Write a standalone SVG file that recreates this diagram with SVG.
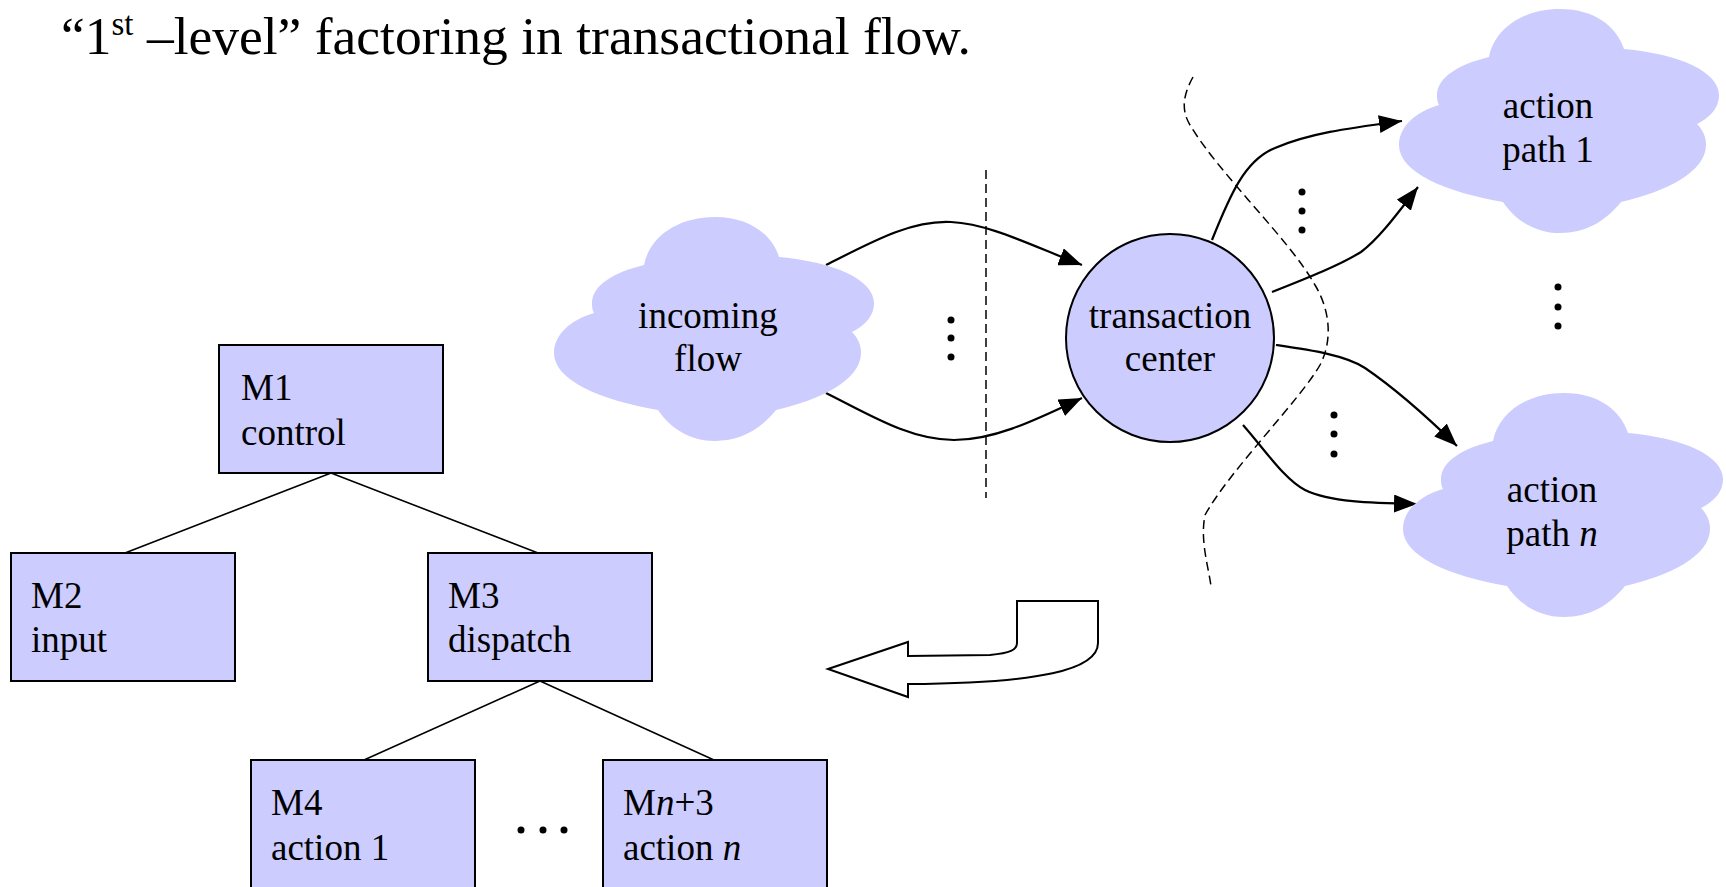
<svg xmlns="http://www.w3.org/2000/svg" width="1726" height="887" viewBox="0 0 1726 887">
<style>
text{font-family:"Liberation Serif","Times New Roman",serif;fill:#000}
.lbl{font-size:37px}
.mid{text-anchor:middle}
.box{fill:#ccccff;stroke:#000;stroke-width:2}
.cloud{fill:#ccccff;stroke:none}
.conn{fill:none;stroke:#000;stroke-width:2.2}
.tree{fill:none;stroke:#000;stroke-width:1.6}
.dash{fill:none;stroke:#000;stroke-width:1.5;stroke-dasharray:9 5}
.dot{fill:#000}
</style>
<defs>
<path id="cloudShape" d="M 90 48 C 96 18 126 0 161 0 C 196 0 218 18 225 40 C 281 45 320 63 320 86 C 320 101 308 110 298 115 C 304 121 307 128 307 136 C 307 163 266 183 222 193 C 206 213 186 224 161 224 C 136 224 116 211 104 193 C 46 183 0 163 0 136 C 0 118 16 103 40 96 C 38 93 38 89 38 86 C 38 68 61 55 90 48 Z"/>
<marker id="ah" markerUnits="userSpaceOnUse" markerWidth="23" markerHeight="18" refX="23" refY="9" orient="auto">
<path d="M0,0 L23,9 L0,18 Z" fill="#000"/>
</marker>
</defs>
<text x="61" y="54" style="font-size:53.5px">“1<tspan style="font-size:33px" dy="-19">st</tspan><tspan dy="19"> –level” factoring in transactional flow.</tspan></text>

<g id="connectors">
<path class="conn" marker-end="url(#ah)" d="M 826 265 C 870 243 910 220 951 222 C 990 224 1030 245 1082 265"/>
<path class="conn" marker-end="url(#ah)" d="M 826 393 C 870 415 910 440 954 440 C 995 440 1035 420 1082 398"/>
<path class="conn" marker-end="url(#ah)" d="M 1212 240 C 1230 195 1245 160 1275 148 C 1310 133 1350 128 1402 121"/>
<path class="conn" marker-end="url(#ah)" d="M 1272 292 C 1310 277 1340 265 1361 252 C 1380 238 1400 210 1418 187"/>
<path class="conn" marker-end="url(#ah)" d="M 1276 345 C 1310 350 1345 355 1365 368 C 1390 385 1420 410 1457 446"/>
<path class="conn" marker-end="url(#ah)" d="M 1243 425 C 1265 450 1285 480 1305 490 C 1330 502 1370 503 1417 504"/>
<path class="tree" d="M 331 473 L 125 553 M 331 473 L 538 553 M 540 681 L 364 760 M 540 681 L 714 760"/>
</g>

<g id="boundaries">
<path class="dash" d="M 986 170 L 986 498"/>
<path class="dash" d="M 1193 77 C 1183 95 1181 110 1190 125 C 1220 175 1290 240 1315 285 C 1330 310 1333 340 1320 365 C 1300 400 1230 470 1205 515 C 1200 540 1208 565 1211 586"/>
</g>

<g id="incoming-flow">
<use href="#cloudShape" class="cloud" transform="translate(554,217)"/>
<text class="lbl mid" x="708" y="328">incoming</text>
<text class="lbl mid" x="708" y="371">flow</text>
</g>

<g id="transaction-center">
<circle cx="1170" cy="338" r="104" class="box"/>
<text class="lbl mid" x="1170" y="328">transaction</text>
<text class="lbl mid" x="1170" y="371">center</text>
</g>

<g id="action-path-1">
<use href="#cloudShape" class="cloud" transform="translate(1399,9)"/>
<text class="lbl mid" x="1548" y="118">action</text>
<text class="lbl mid" x="1548" y="162">path 1</text>
</g>

<g id="action-path-n">
<use href="#cloudShape" class="cloud" transform="translate(1403,393)"/>
<text class="lbl mid" x="1552" y="502">action</text>
<text class="lbl mid" x="1552" y="546">path <tspan font-style="italic">n</tspan></text>
</g>

<g id="dots">
<circle class="dot" cx="951" cy="320" r="3.5"/><circle class="dot" cx="951" cy="338" r="3.5"/><circle class="dot" cx="951" cy="357" r="3.5"/>
<circle class="dot" cx="1302" cy="192" r="3.5"/><circle class="dot" cx="1302" cy="211" r="3.5"/><circle class="dot" cx="1302" cy="230" r="3.5"/>
<circle class="dot" cx="1558" cy="287" r="3.5"/><circle class="dot" cx="1558" cy="307" r="3.5"/><circle class="dot" cx="1558" cy="326" r="3.5"/>
<circle class="dot" cx="1334" cy="415" r="3.5"/><circle class="dot" cx="1334" cy="434" r="3.5"/><circle class="dot" cx="1334" cy="454" r="3.5"/>
<circle class="dot" cx="521" cy="830" r="3.5"/><circle class="dot" cx="543" cy="830" r="3.5"/><circle class="dot" cx="564" cy="830" r="3.5"/>
</g>

<g id="transform-arrow">
<path d="M 828 669 L 908 642 L 908 656 L 990 655 C 1010 653 1017 650 1017 643 L 1017 601 L 1098 601 L 1098 643 C 1098 670 1040 683 908 684 L 908 697 Z" fill="#fff" stroke="#000" stroke-width="2" stroke-linejoin="miter"/>
</g>

<g id="M1">
<rect class="box" x="219" y="345" width="224" height="128"/>
<text class="lbl" x="241" y="400">M1</text>
<text class="lbl" x="241" y="445">control</text>
</g>
<g id="M2">
<rect class="box" x="11" y="553" width="224" height="128"/>
<text class="lbl" x="31" y="608">M2</text>
<text class="lbl" x="31" y="652">input</text>
</g>
<g id="M3">
<rect class="box" x="428" y="553" width="224" height="128"/>
<text class="lbl" x="448" y="608">M3</text>
<text class="lbl" x="448" y="652">dispatch</text>
</g>
<g id="M4">
<rect class="box" x="251" y="760" width="224" height="128"/>
<text class="lbl" x="271" y="815">M4</text>
<text class="lbl" x="271" y="860">action 1</text>
</g>
<g id="Mn3">
<rect class="box" x="603" y="760" width="224" height="128"/>
<text class="lbl" x="623" y="815">M<tspan font-style="italic">n</tspan>+3</text>
<text class="lbl" x="623" y="860">action <tspan font-style="italic">n</tspan></text>
</g>
</svg>
